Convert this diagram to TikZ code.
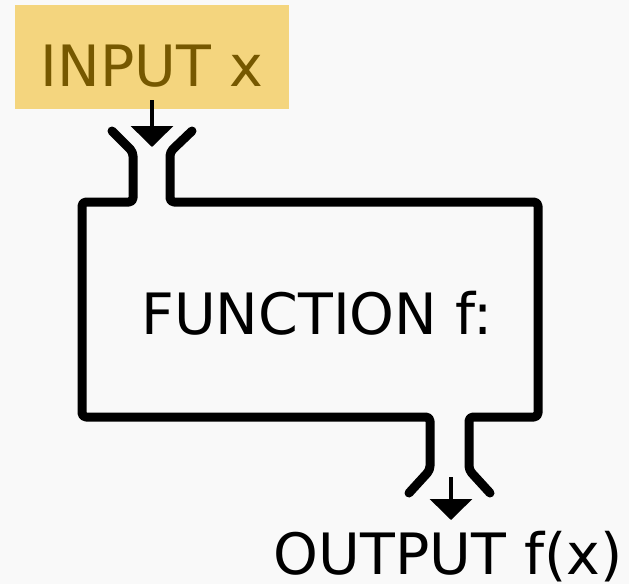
\documentclass[tikz,border=0pt]{standalone}
\usepackage{fontspec}
\setmainfont{DejaVu Sans}
\usetikzlibrary{arrows.meta}
\definecolor{bgcol}{RGB}{249,249,249}
\definecolor{inyellow}{RGB}{244,213,126}
\definecolor{inbrown}{RGB}{118,88,0}
\tikzset{
  pipe/.style={line width=9pt, line cap=round, line join=round, rounded corners=4pt},
  feed/.style={line width=3.5pt, -{Triangle[width=42pt,length=21pt]}},
  label/.style={font=\fontsize{57}{62}\selectfont, inner sep=0pt}
}

\begin{document}
\begin{tikzpicture}[x=1pt,y=-1pt]
\fill[bgcol] (0,0) rectangle (629,584);
\useasboundingbox (0,0) rectangle (629,584);

% input box
\node[label, fill=inyellow, text=inbrown, minimum width=274pt, minimum height=104pt,
      text height=58pt, text depth=0pt] (input) at (152,57) {INPUT x};

% the machine: two walls, each with half of the inlet and outlet
\draw[pipe] (112,131) -- (133,152) -- (133,202) -- (82,202) -- (82,417)
    -- (430,417) -- (430,470) -- (409,493);
\draw[pipe] (192,131) -- (170,152) -- (170,202) -- (538,202) -- (538,417)
    -- (469,417) -- (469,470) -- (490,493);
\node[label, anchor=base] (func) at (317,334) {FUNCTION f:};

\node[label, anchor=base] (output) at (448,574) {OUTPUT f(x)};

\coordinate (inlet) at (152,147);
\coordinate (outtop) at (451,477);
\draw[feed] ([yshift=9pt]input.south) -- (inlet);
\draw[feed] (outtop) -- (451,520);
\end{tikzpicture}
\end{document}
